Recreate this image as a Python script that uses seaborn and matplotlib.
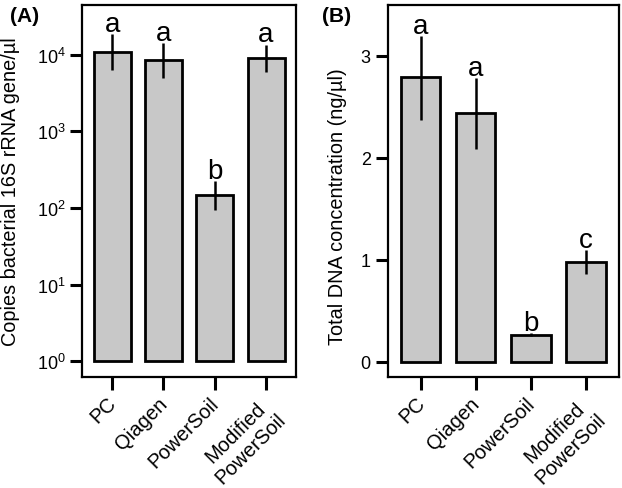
import numpy as np
import pandas as pd
import matplotlib
matplotlib.use("Agg")
import matplotlib.pyplot as plt
import matplotlib.transforms as mtransforms
import seaborn as sb

# dados
methods = ["PC", "Qiagen", "PowerSoil", "Modified\nPowerSoil"]

copies_mean = [11000, 8500, 148, 9050]
copies_low = [6300, 4900, 94, 6000]
copies_high = [18600, 14000, 223, 13500]
copies_letters = ["a", "a", "b", "a"]

dna_mean = [2.79, 2.44, 0.265, 0.98]
dna_low = [2.37, 2.09, 0.25, 0.86]
dna_high = [3.19, 2.78, 0.28, 1.09]
dna_letters = ["a", "a", "b", "c"]

sb.set_style("white")
plt.rcParams['font.family'] = ['Liberation Sans', 'DejaVu Sans']
plt.rcParams['mathtext.fontset'] = 'custom'
plt.rcParams['mathtext.rm'] = 'Liberation Sans'
plt.rcParams['mathtext.it'] = 'Liberation Sans'
plt.rcParams['mathtext.default'] = 'rm'
for k in ['text.color', 'axes.labelcolor', 'xtick.color', 'ytick.color']:
    plt.rcParams[k] = 'black'

fig = plt.figure(figsize=(6.22, 4.89), dpi=100)
ax_a = fig.add_axes([0.132, 0.228, 0.344, 0.760])
ax_b = fig.add_axes([0.623, 0.228, 0.372, 0.760])


def draw_panel(ax, means, lows, highs, letters, log=False):
    df = pd.DataFrame({"method": methods, "value": means})
    sb.barplot(data=df, x="method", y="value", color="#c8c8c8", saturation=1,
               edgecolor="black", linewidth=2.0, width=0.72, errorbar=None, ax=ax)
    if log:
        ax.set_yscale("log")
        # barras comecam em 10^0
        for p, v in zip(ax.patches, means):
            p.set_y(1)
            p.set_height(v - 1)
    x = np.arange(len(methods))
    ax.vlines(x, lows, highs, color="black", lw=1.8, zorder=5)
    for xi, hi, lab in zip(x, highs, letters):
        ax.annotate(lab, (xi, hi), xytext=(0, 2.5), textcoords="offset points",
                    ha="center", va="baseline", fontsize=20, color="black")
    for s in ax.spines.values():
        s.set_visible(True)
        s.set_linewidth(1.6)
        s.set_color("black")
    ax.tick_params(axis="both", direction="out", length=9, width=2.2,
                   labelsize=13, color="black", pad=3, left=True, bottom=True)
    ax.set_xlabel("")
    ax.set_xticks(x)
    ax.set_xticklabels(methods, rotation=45, ha="right", rotation_mode="anchor",
                       multialignment="center", fontsize=14.5)
    # desloca um pouco os rotulos para a esquerda
    shift = mtransforms.ScaledTranslation(-4 / 72, 0, fig.dpi_scale_trans)
    for lbl in ax.get_xticklabels():
        lbl.set_transform(lbl.get_transform() + shift)


draw_panel(ax_a, copies_mean, copies_low, copies_high, copies_letters, log=True)
ax_a.set_ylim(10 ** -0.2, 10 ** 4.65)
ax_a.set_xlim(-0.585, 3.585)
ax_a.set_yticks([1, 10, 100, 1000, 10000])
ax_a.set_yticklabels([r"$10^{%d}$" % i for i in range(5)])
ax_a.yaxis.set_minor_locator(matplotlib.ticker.NullLocator())
ax_a.set_ylabel("Copies bacterial 16S rRNA gene/µl", fontsize=14.3)
ax_a.yaxis.set_label_coords(-0.29, 0.5)

draw_panel(ax_b, dna_mean, dna_low, dna_high, dna_letters)
ax_b.set_ylim(-0.147, 3.50)
ax_b.set_xlim(-0.6, 3.6)
ax_b.set_yticks([0, 1, 2, 3])
ax_b.set_ylabel("Total DNA concentration (ng/µl)", fontsize=14.3)
ax_b.yaxis.set_label_coords(-0.175, 0.46)

fig.text(0.016, 0.985, "(A)", fontsize=15, fontweight="bold", va="top")
fig.text(0.517, 0.985, "(B)", fontsize=15, fontweight="bold", va="top")

fig.savefig("out.png", dpi=100)
